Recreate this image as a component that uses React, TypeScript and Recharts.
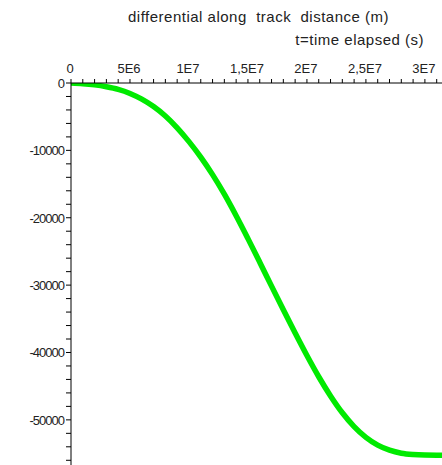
import React from "react";
import { LineChart, Line, XAxis, YAxis } from "recharts";

const timeSeconds = [
  0, 1e6, 2e6, 3e6, 4e6, 5e6, 6e6, 7e6, 8e6, 9e6, 1e7, 1.1e7, 1.2e7, 1.3e7, 1.4e7,
  1.5e7, 1.6e7, 1.7e7, 1.8e7, 1.9e7, 2e7, 2.1e7, 2.2e7, 2.3e7, 2.4e7, 2.5e7, 2.6e7,
  2.7e7, 2.8e7, 2.9e7, 3e7, 3.1e7, 3.145e7,
];
const differential = [
  0, -100, -280, -560, -950, -1550, -2400, -3500, -4900, -6650, -8700, -11000,
  -13600, -16500, -19700, -23100, -26600, -30150, -33650, -37100, -40450, -43600,
  -46450, -48950, -51000, -52600, -53750, -54500, -54950, -55150, -55230, -55250,
  -55250,
];

const xTicks = Array.from({ length: 32 }, (_, i) => i * 1e6);
const xMajorLabels: Record<number, string> = {
  0: "0",
  5000000: "5E6",
  10000000: "1E7",
  15000000: "1,5E7",
  20000000: "2E7",
  25000000: "2,5E7",
  30000000: "3E7",
};
const yTicks = Array.from({ length: 29 }, (_, i) => -i * 2000);
const yMajorLabels: Record<number, string> = {
  0: "0",
  [-10000]: "-10000",
  [-20000]: "-20000",
  [-30000]: "-30000",
  [-40000]: "-40000",
  [-50000]: "-50000",
};

const titleLine = "differential along  track  distance (m)";
const subtitleLine = "t=time elapsed (s)";

const data = timeSeconds.map((t, i) => ({ t, v: differential[i] }));

const FONT = "'Liberation Sans', Arial, sans-serif";
const TEXT_COLOR = "#222";

const XTick = (props: any) => {
  const { x, y, payload } = props;
  const label = xMajorLabels[payload.value];
  return (
    <g>
      <line x1={x} x2={x} y1={y} y2={y - 4} stroke="#000" strokeWidth={1} />
      {label !== undefined && (
        <text
          x={x - 1}
          y={y - 10}
          textAnchor="middle"
          fontSize={13}
          fontFamily={FONT}
          fill={TEXT_COLOR}
        >
          {label}
        </text>
      )}
    </g>
  );
};

const YTick = (props: any) => {
  const { x, y, payload } = props;
  const label = yMajorLabels[payload.value];
  return (
    <g>
      <line x1={x - 5} x2={x} y1={y} y2={y} stroke="#000" strokeWidth={1} />
      {label !== undefined && (
        <text
          x={x - 7}
          y={y + 5}
          textAnchor="end"
          fontSize={13}
          fontFamily={FONT}
          letterSpacing={-1}
          fill={TEXT_COLOR}
        >
          {label}
        </text>
      )}
    </g>
  );
};

export default function App() {
  return (
    <div
      style={{
        position: "absolute",
        left: 0,
        top: 0,
        width: 442,
        height: 465,
        background: "#fff",
        overflow: "hidden",
      }}
    >
      <div
        style={{
          position: "absolute",
          left: 128,
          top: 8,
          fontFamily: FONT,
          fontSize: 15,
          letterSpacing: 0.5,
          color: TEXT_COLOR,
          whiteSpace: "pre",
        }}
      >
        {titleLine}
      </div>
      <div
        style={{
          position: "absolute",
          right: 18,
          top: 31,
          fontFamily: FONT,
          fontSize: 15,
          letterSpacing: 0.5,
          color: TEXT_COLOR,
          whiteSpace: "pre",
        }}
      >
        {subtitleLine}
      </div>
      <div style={{ position: "absolute", left: 0, top: 0 }}>
        <LineChart
          width={442}
          height={465}
          data={data}
          margin={{ top: 53, right: 0, bottom: 0, left: 0 }}
        >
          <XAxis
            dataKey="t"
            type="number"
            orientation="top"
            domain={[0, 3.145e7]}
            ticks={xTicks}
            interval={0}
            height={30}
            tickSize={0}
            tickMargin={0}
            tick={<XTick />}
            axisLine={{ stroke: "#000", strokeWidth: 1 }}
            allowDataOverflow
          />
          <YAxis
            dataKey="v"
            type="number"
            domain={[-56700, 0]}
            ticks={yTicks}
            interval={0}
            width={71}
            tickSize={0}
            tickMargin={0}
            tick={<YTick />}
            axisLine={{ stroke: "#000", strokeWidth: 1 }}
            allowDataOverflow
          />
          <Line
            type="monotone"
            dataKey="v"
            stroke="#00ea00"
            strokeWidth={5.5}
            dot={false}
            isAnimationActive={false}
          />
        </LineChart>
      </div>
    </div>
  );
}
